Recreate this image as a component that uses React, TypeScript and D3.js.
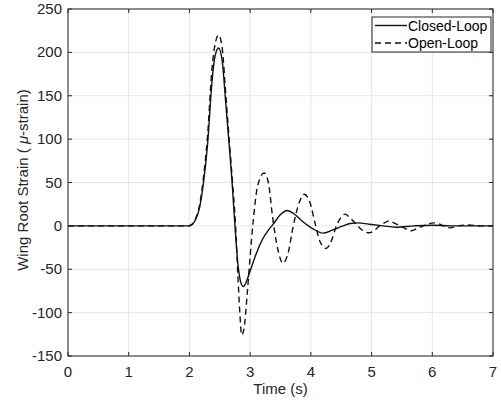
import * as d3 from 'd3'

const W = 501
const H = 403
const MARGIN = { top: 9, right: 8, bottom: 47, left: 68 }

// time (s) / strain (µ-strain)
const closedT = [0, 1.98, 2.05, 2.1, 2.17, 2.23, 2.3, 2.37, 2.42, 2.48, 2.54, 2.6, 2.66, 2.7, 2.75, 2.8, 2.85, 2.89, 2.95, 3.01, 3.1, 3.2, 3.3, 3.38, 3.5, 3.61, 3.72, 3.85, 3.96, 4.05, 4.2, 4.35, 4.53, 4.65, 4.78, 4.95, 5.19, 5.4, 5.7, 6.0, 6.3, 7]
const closedV = [0, 0, 2, 7, 22, 49, 95, 165, 195, 205, 190, 140, 89, 53, 0, -45, -66, -70, -62, -50, -32, -16, -5, 2, 13, 17.7, 14, 6, 0, -4, -8.4, -5, 0, 2.8, 3.5, 2, 0, -1.5, 0, 0.8, 0, 0]

const openT = [0, 1.98, 2.05, 2.1, 2.17, 2.23, 2.3, 2.37, 2.43, 2.48, 2.54, 2.6, 2.66, 2.71, 2.76, 2.8, 2.83, 2.86, 2.9, 2.95, 3.0, 3.05, 3.12, 3.23, 3.3, 3.37, 3.45, 3.54, 3.63, 3.71, 3.8, 3.89, 3.98, 4.08, 4.15, 4.25, 4.35, 4.42, 4.48, 4.56, 4.65, 4.77, 4.85, 4.96, 5.05, 5.13, 5.2, 5.29, 5.38, 5.47, 5.55, 5.66, 5.75, 5.85, 5.92, 6.03, 6.12, 6.18, 6.29, 6.42, 6.6, 6.8, 7]
const openV = [0, 0, 2, 8, 25, 55, 105, 180, 212, 220, 205, 150, 95, 50, 0, -60, -100, -126, -118, -80, -35, 5, 45, 61, 50, 10, -25, -43, -30, 0, 25, 36.5, 28, 0, -18, -26, -15, 0, 8, 13.5, 9, 0, -5, -8, -5, 0, 3, 5.8, 3, 0, -3, -5.7, -3, 0, 2, 3.5, 2, 0, -2.3, 0, 1, 0, 0]

const xTicks = [0, 1, 2, 3, 4, 5, 6, 7]
const yTicks = [-150, -100, -50, 0, 50, 100, 150, 200, 250]

const AX = '#262626'
const FONT = 'Arial, "Liberation Sans", Helvetica, sans-serif'

export default function App() {
  const x = d3.scaleLinear().domain([0, 7]).range([MARGIN.left, W - MARGIN.right])
  const y = d3.scaleLinear().domain([-150, 250]).range([H - MARGIN.bottom, MARGIN.top])

  const line = d3.line<[number, number]>()
    .x(d => x(d[0]))
    .y(d => y(d[1]))
    .curve(d3.curveMonotoneX)

  const closed = closedT.map((t, i) => [t, closedV[i]] as [number, number])
  const open = openT.map((t, i) => [t, openV[i]] as [number, number])

  const x0 = x(0), x1 = x(7), y0 = y(-150), y1 = y(250)
  const tk = 4

  return (
    <div style={{ position: 'absolute', left: 0, top: 0 }}>
      <svg width={W} height={H} style={{ display: 'block', background: '#fff' }} fontFamily={FONT}>
        {/* grid */}
        {xTicks.map(t => (
          <line key={'gx' + t} x1={x(t)} x2={x(t)} y1={y0} y2={y1} stroke="#e6e6e6" strokeWidth={1} />
        ))}
        {yTicks.map(t => (
          <line key={'gy' + t} x1={x0} x2={x1} y1={y(t)} y2={y(t)} stroke="#e6e6e6" strokeWidth={1} />
        ))}

        {/* curves */}
        <path d={line(open) ?? ''} fill="none" stroke="#111" strokeWidth={1.4} strokeDasharray="6,4" />
        <path d={line(closed) ?? ''} fill="none" stroke="#111" strokeWidth={1.4} />

        {/* box + ticks */}
        <rect x={x0} y={y1} width={x1 - x0} height={y0 - y1} fill="none" stroke={AX} strokeWidth={1} />
        {xTicks.map(t => (
          <g key={'tx' + t}>
            <line x1={x(t)} x2={x(t)} y1={y0} y2={y0 - tk} stroke={AX} />
            <line x1={x(t)} x2={x(t)} y1={y1} y2={y1 + tk} stroke={AX} />
            <text x={x(t)} y={y0 + 21} textAnchor="middle" fontSize={15} fill={AX}>{t}</text>
          </g>
        ))}
        {yTicks.map(t => (
          <g key={'ty' + t}>
            <line x1={x0} x2={x0 + tk} y1={y(t)} y2={y(t)} stroke={AX} />
            <line x1={x1} x2={x1 - tk} y1={y(t)} y2={y(t)} stroke={AX} />
            <text x={x0 - 6} y={y(t) + 5} textAnchor="end" fontSize={15} fill={AX}>{t}</text>
          </g>
        ))}

        {/* axis labels */}
        <text x={(x0 + x1) / 2} y={394} textAnchor="middle" fontSize={15} fill={AX}>Time (s)</text>
        <text transform={`translate(28,180) rotate(-90)`} textAnchor="middle" fontSize={15} fill={AX}>
          Wing Root Strain ( <tspan fontStyle="italic">μ</tspan>-strain)
        </text>

        {/* legend */}
        <g>
          <rect x={372} y={17} width={119} height={35} fill="#fff" stroke={AX} strokeWidth={1} />
          <line x1={375} x2={407} y1={25.5} y2={25.5} stroke="#111" strokeWidth={1.4} />
          <text x={408} y={30.5} fontSize={14} fill="#000">Closed-Loop</text>
          <line x1={375} x2={407} y1={43} y2={43} stroke="#111" strokeWidth={1.4} strokeDasharray="6,4" />
          <text x={408} y={48} fontSize={14} fill="#000">Open-Loop</text>
        </g>
      </svg>
    </div>
  )
}
